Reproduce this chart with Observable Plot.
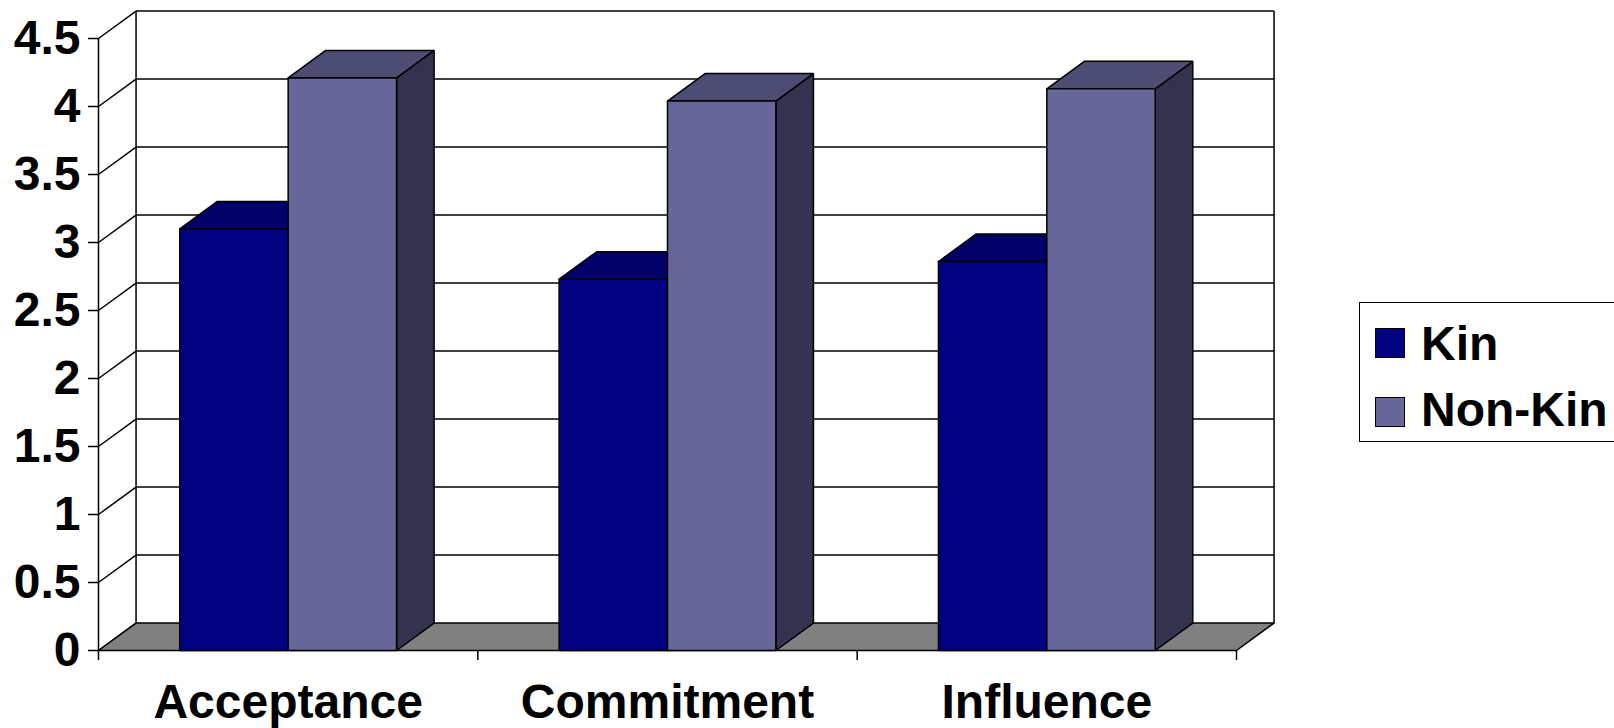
<!DOCTYPE html>
<html>
<head>
<meta charset="utf-8">
<script src="https://cdn.jsdelivr.net/npm/d3@7"></script>
<script src="https://cdn.jsdelivr.net/npm/@observablehq/plot@0.6"></script>
<style>
  html, body { margin: 0; padding: 0; background: #fff; overflow: hidden; }
  #wrap { position: relative; width: 1614px; height: 728px; }
  .legend { position: absolute; left: 1359px; top: 302px; width: 280px; height: 140px;
            border: 1.5px solid #000; box-sizing: border-box; background: #fff;
            font-family: "Liberation Sans", Arial, sans-serif; font-weight: bold; font-size: 48px; }
  .legend .sw { position: absolute; width: 30px; height: 30px; border: 1.5px solid #000; box-sizing: border-box; left: 15px; }
  .legend .lb { position: absolute; left: 61px; line-height: 1; white-space: nowrap; color: #000; }
</style>
</head>
<body>
<div id="wrap"></div>
<script>
// Mean scores by relationship type
const categories = ["Acceptance", "Commitment", "Influence"];
const series = ["Kin", "Non-Kin"];
const kin = [3.10, 2.73, 2.86];
const nonKin = [4.21, 4.04, 4.13];
const yTicks = [0, 0.5, 1, 1.5, 2, 2.5, 3, 3.5, 4, 4.5];

// Face colours for each series: front, top, side
const faceColors = {
  "Kin":     {front: "#000080", top: "#000066", side: "#000040"},
  "Non-Kin": {front: "#666699", top: "#4d4d73", side: "#333350"}
};

// Oblique depth of the 3-D box, in data units (x: categories, y: score)
const depthX = 0.099;
const depthY = 0.202;
const barW = 1 / 3.5;          // two bars plus a 150% gap per category
const gapW = barW * 0.75;

const values = [kin, nonKin];

// Build the polygon faces of every bar, back-to-front
const faces = [];
categories.forEach((cat, i) => {
  series.forEach((s, j) => {
    const v = values[j][i];
    const x0 = i + gapW + j * barW, x1 = x0 + barW;
    const c = faceColors[s];
    const add = (name, pts, fill) => {
      const id = `${cat}-${s}-${name}`;
      [...pts, pts[0]].forEach(([x, y]) => faces.push({id, x, y, fill}));
    };
    add("side", [[x1, 0], [x1, v], [x1 + depthX, v + depthY], [x1 + depthX, depthY]], c.side);
    add("top", [[x0, v], [x1, v], [x1 + depthX, v + depthY], [x0 + depthX, v + depthY]], c.top);
    add("front", [[x0, 0], [x1, 0], [x1, v], [x0, v]], c.front);
  });
});

const nCat = categories.length;
const yMax = yTicks[yTicks.length - 1];

const floor = [[0, 0], [nCat, 0], [nCat + depthX, depthY], [depthX, depthY], [0, 0]]
  .map(([x, y]) => ({x, y}));

const font = "'Liberation Sans', Arial, sans-serif";

const chart = Plot.plot({
  width: 1614,
  height: 728,
  marginLeft: 98,
  marginRight: 378,
  marginTop: 38,
  marginBottom: 78,
  style: {fontFamily: font, fontWeight: "bold", fontSize: "48px", color: "#000", background: "#fff", overflow: "visible"},
  x: {domain: [0, nCat], axis: null},
  y: {domain: [0, yMax], axis: null},
  color: {type: "identity"},
  marks: [
    // side wall gridlines (diagonals)
    Plot.link(yTicks, {x1: 0, y1: d => d, x2: depthX, y2: d => d + depthY, stroke: "#000", strokeWidth: 1.5}),
    // back wall gridlines
    Plot.link(yTicks.slice(1), {x1: depthX, y1: d => d + depthY, x2: nCat + depthX, y2: d => d + depthY, stroke: "#000", strokeWidth: 1.5}),
    // back wall edges
    Plot.link([depthX, nCat + depthX], {x1: d => d, x2: d => d, y1: depthY, y2: yMax + depthY, stroke: "#000", strokeWidth: 1.5}),
    // floor
    Plot.line(floor, {x: "x", y: "y", fill: "#808080", stroke: "#000", strokeWidth: 1.5}),
    // front vertical axis line
    Plot.ruleX([0], {y1: 0, y2: yMax, stroke: "#000", strokeWidth: 1.5}),
    // bars
    Plot.line(faces, {x: "x", y: "y", z: "id", fill: "fill", stroke: "#000", strokeWidth: 1.5, strokeLinejoin: "miter", curve: "linear"}),
    // y axis
    Plot.axisY(yTicks, {tickSize: 10, tickPadding: 8, tickFormat: d => String(d), label: null,
      stroke: "#000", strokeWidth: 1.5, fontSize: 48, fontWeight: "bold", fill: "#000"}),
    // category ticks
    Plot.axisX(d3.range(nCat + 1), {tickSize: 10, tickFormat: () => "", label: null, stroke: "#000", strokeWidth: 1.5}),
    // category labels
    Plot.axisX(categories.map((c, i) => i + 0.5), {tickSize: 0, tickPadding: 33, label: null,
      tickFormat: d => categories[Math.floor(d)], fontSize: 48, fontWeight: "bold", fill: "#000"})
  ]
});

const wrap = document.getElementById("wrap");
wrap.appendChild(chart);

// Legend box at the right
const legend = document.createElement("div");
legend.className = "legend";
const tops = [{sw: 24.7, lb: 17.4}, {sw: 94, lb: 83.4}];
series.forEach((s, j) => {
  const sw = document.createElement("div");
  sw.className = "sw";
  sw.style.top = tops[j].sw + "px";
  sw.style.background = faceColors[s].front;
  const lb = document.createElement("div");
  lb.className = "lb";
  lb.style.top = tops[j].lb + "px";
  lb.textContent = s;
  legend.appendChild(sw);
  legend.appendChild(lb);
});
wrap.appendChild(legend);
</script>
</body>
</html>
